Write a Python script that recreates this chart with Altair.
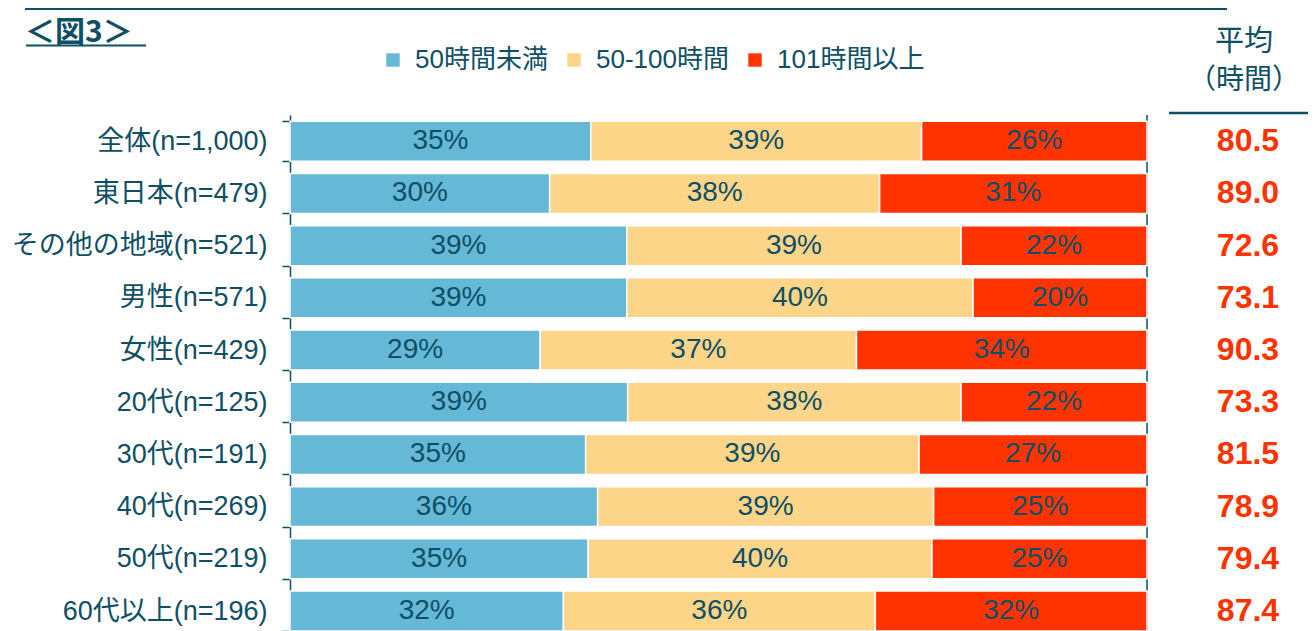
import altair as alt
import pandas as pd

groups = ["全体(n=1,000)", "東日本(n=479)", "その他の地域(n=521)", "男性(n=571)", "女性(n=429)",
          "20代(n=125)", "30代(n=191)", "40代(n=269)", "50代(n=219)", "60代以上(n=196)"]
categories = ["50時間未満", "50-100時間", "101時間以上"]
colors = ["#66b8d7", "#fdd588", "#ff3300"]

under50 = [35.1, 30.3, 39.3, 39.3, 29.2, 39.4, 34.5, 35.9, 34.8, 31.9]
mid100 = [38.6, 38.5, 39.0, 40.4, 36.9, 38.9, 38.9, 39.2, 40.1, 36.4]
over101 = [26.3, 31.2, 21.7, 20.3, 33.9, 21.7, 26.6, 24.9, 25.1, 31.7]

label_under50 = [35, 30, 39, 39, 29, 39, 35, 36, 35, 32]
label_mid100 = [39, 38, 39, 40, 37, 38, 39, 39, 40, 36]
label_over101 = [26, 31, 22, 20, 34, 22, 27, 25, 25, 32]

averages = [80.5, 89.0, 72.6, 73.1, 90.3, 73.3, 81.5, 78.9, 79.4, 87.4]

TEXT = "#0e4f66"
FONT = "Liberation Sans, Arial, 'Noto Sans CJK JP', sans-serif"
CJK = "'Noto Sans CJK JP', sans-serif"

rows = []
for i, g in enumerate(groups):
    vals = [under50[i], mid100[i], over101[i]]
    labs = [label_under50[i], label_mid100[i], label_over101[i]]
    start = 0.0
    for k, c in enumerate(categories):
        end = start + vals[k]
        rows.append({"group": g, "cat": c, "order": k, "start": start, "end": end,
                     "mid": (start + end) / 2, "label": f"{labs[k]}%"})
        start = end
df = pd.DataFrame(rows)
avg_df = pd.DataFrame({"group": groups, "avg": averages})

W, H = 857, 516

yscale = alt.Scale(domain=groups, paddingInner=0.234, paddingOuter=0.06, align=1)
y_enc = alt.Y("group:N", sort=groups, scale=yscale,
              axis=alt.Axis(title=None, labelFontSize=27, labelColor=TEXT, labelFont=FONT,
                            domainColor=TEXT, domainWidth=1.5, tickColor=TEXT, tickWidth=1.5,
                            tickSize=8, tickBand="extent", labelPadding=15, labelLimit=0))
xscale = alt.Scale(domain=[0, 100], nice=False, zero=True)

right_line = alt.Chart(pd.DataFrame({"x": [100]})).mark_rule(color=TEXT, strokeWidth=1.5).encode(
    x=alt.X("x:Q", scale=xscale, axis=None))

bars = alt.Chart(df).mark_bar(stroke="white", strokeWidth=1.5).encode(
    y=y_enc,
    x=alt.X("start:Q", scale=xscale, axis=None),
    x2="end:Q",
    color=alt.Color("cat:N", scale=alt.Scale(domain=categories, range=colors),
                    legend=alt.Legend(title=None, orient="none", direction="horizontal",
                                      legendX=90, legendY=-68, symbolType="square",
                                      symbolSize=180, symbolStrokeWidth=0, labelFontSize=26,
                                      labelFont=FONT, labelColor=TEXT, columnPadding=13,
                                      labelOffset=9, padding=0)),
    order=alt.Order("order:Q"),
)

bar_text = alt.Chart(df).mark_text(fontSize=28, font=FONT, color=TEXT, baseline="middle").encode(
    y=alt.Y("group:N", sort=groups, scale=yscale),
    x=alt.X("mid:Q", scale=xscale),
    text="label:N",
)

avg_text = alt.Chart(avg_df).mark_text(fontSize=32, font=FONT, fontWeight="bold", color="#ff3300",
                                       baseline="middle", align="center").encode(
    y=alt.Y("group:N", sort=groups, scale=yscale),
    x=alt.value(958),
    text=alt.Text("avg:Q", format=".1f"),
)

one = pd.DataFrame({"a": [0]})
top_line = alt.Chart(one).mark_rule(color=TEXT, strokeWidth=3).encode(
    x=alt.value(-265), x2=alt.value(937), y=alt.value(-106.5))
head_line = alt.Chart(one).mark_rule(color=TEXT, strokeWidth=2.5).encode(
    x=alt.value(879), x2=alt.value(1030), y=alt.value(-2))
title_text = alt.Chart(one).mark_text(text="＜図3＞", font=CJK, fontWeight="bold", fontSize=30,
                                      color=TEXT, align="left", baseline="middle").encode(
    x=alt.value(-265), y=alt.value(-82.5))
title_ul = alt.Chart(one).mark_rule(color=TEXT, strokeWidth=2).encode(
    x=alt.value(-264), x2=alt.value(-144), y=alt.value(-69.5))
head1 = alt.Chart(one).mark_text(text="平均", font=CJK, fontSize=29, color=TEXT,
                                 align="center", baseline="middle").encode(
    x=alt.value(954), y=alt.value(-73))
head2 = alt.Chart(one).mark_text(text="（時間）", font=CJK, fontSize=28, color=TEXT,
                                 align="center", baseline="middle").encode(
    x=alt.value(954), y=alt.value(-34))

chart = alt.layer(right_line, bars, bar_text, avg_text, top_line, head_line, title_text,
                  title_ul, head1, head2).properties(
    width=W, height=H,
    autosize=alt.AutoSizeParams(type="none"),
    padding={"left": 282, "top": 107, "right": 161, "bottom": 0},
).configure_view(stroke=None)

chart.save("out.html", embed_options={"renderer": "svg", "actions": False})
